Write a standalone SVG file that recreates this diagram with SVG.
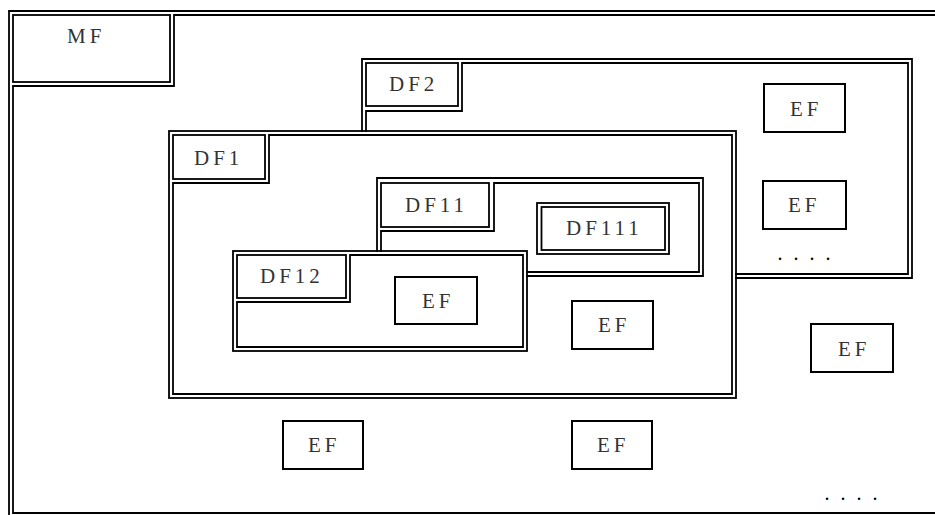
<svg xmlns="http://www.w3.org/2000/svg" width="935" height="515" viewBox="0 0 935 515">
<style>
.ln{fill:none;stroke:#000;stroke-width:1.8;stroke-linejoin:miter;stroke-linecap:square}
.ef{fill:none;stroke:#000;stroke-width:2}
.t{font-family:"Liberation Serif","Times New Roman",serif;font-size:21px;fill:#333;letter-spacing:4px}
.d{font-family:"Liberation Serif","Times New Roman",serif;font-size:20px;fill:#000;letter-spacing:11px}
</style>
<rect width="935" height="515" fill="#fff"/>
<g id="MF">
<path class="ln" d="M940,11 H9 V520"/>
<path class="ln" d="M940,513 H13 V86 H174 V15 H940"/>
<rect class="ln" x="13" y="15" width="157" height="67"/>
<text class="t" x="67" y="43">MF</text>
</g>
<g id="DF2">
<path class="ln" d="M362,131 V59 H912 V278 H736"/>
<path class="ln" d="M366,131 V111 H462 V63 H908 V274 H736"/>
<rect class="ln" x="366" y="63" width="92" height="43"/>
<text class="t" x="389" y="91">DF2</text>
</g>
<g id="DF1">
<rect class="ln" x="169" y="131" width="567" height="267"/>
<path class="ln" d="M173,394 V183 H269 V135 H732 V394 Z"/>
<rect class="ln" x="173" y="135" width="92" height="44"/>
<text class="t" x="194" y="165">DF1</text>
</g>
<g id="DF11">
<path class="ln" d="M377,251 V178 H703 V276 H527"/>
<path class="ln" d="M381,251 V231 H494 V183 H699 V272 H527"/>
<rect class="ln" x="381" y="183" width="108" height="44"/>
<text class="t" x="405" y="212">DF11</text>
</g>
<g id="DF111">
<rect class="ln" x="537" y="203" width="132" height="51"/>
<rect class="ln" x="541.5" y="207" width="123.5" height="43"/>
<text class="t" x="566" y="235">DF111</text>
</g>
<g id="DF12">
<rect class="ln" x="233" y="251" width="294" height="100"/>
<path class="ln" d="M237,347 V302 H350 V255 H523 V347 Z"/>
<rect class="ln" x="237" y="255" width="109" height="43"/>
<text class="t" x="260" y="283">DF12</text>
</g>
<g id="EF-df12">
<rect class="ef" x="395" y="277" width="82" height="47"/>
<text class="t" x="422" y="308">EF</text>
</g>
<g id="EF-df2-1">
<rect class="ef" x="764" y="84" width="81" height="48"/>
<text class="t" x="790" y="116">EF</text>
</g>
<g id="EF-df2-2">
<rect class="ef" x="763" y="181" width="83" height="48"/>
<text class="t" x="788" y="212">EF</text>
</g>
<g id="dots-df2">
<text class="d" x="777.5" y="260">....</text>
</g>
<g id="EF-df1">
<rect class="ef" x="572" y="301" width="81" height="48"/>
<text class="t" x="598" y="332">EF</text>
</g>
<g id="EF-mf-right">
<rect class="ef" x="811" y="324" width="82" height="48"/>
<text class="t" x="838" y="356">EF</text>
</g>
<g id="EF-mf-1">
<rect class="ef" x="283" y="421" width="80" height="48"/>
<text class="t" x="308" y="452">EF</text>
</g>
<g id="EF-mf-2">
<rect class="ef" x="572" y="421" width="80" height="48"/>
<text class="t" x="597" y="452">EF</text>
</g>
<g id="dots-mf">
<text class="d" x="824.5" y="500">....</text>
</g>
<g id="connectors"></g>
</svg>
